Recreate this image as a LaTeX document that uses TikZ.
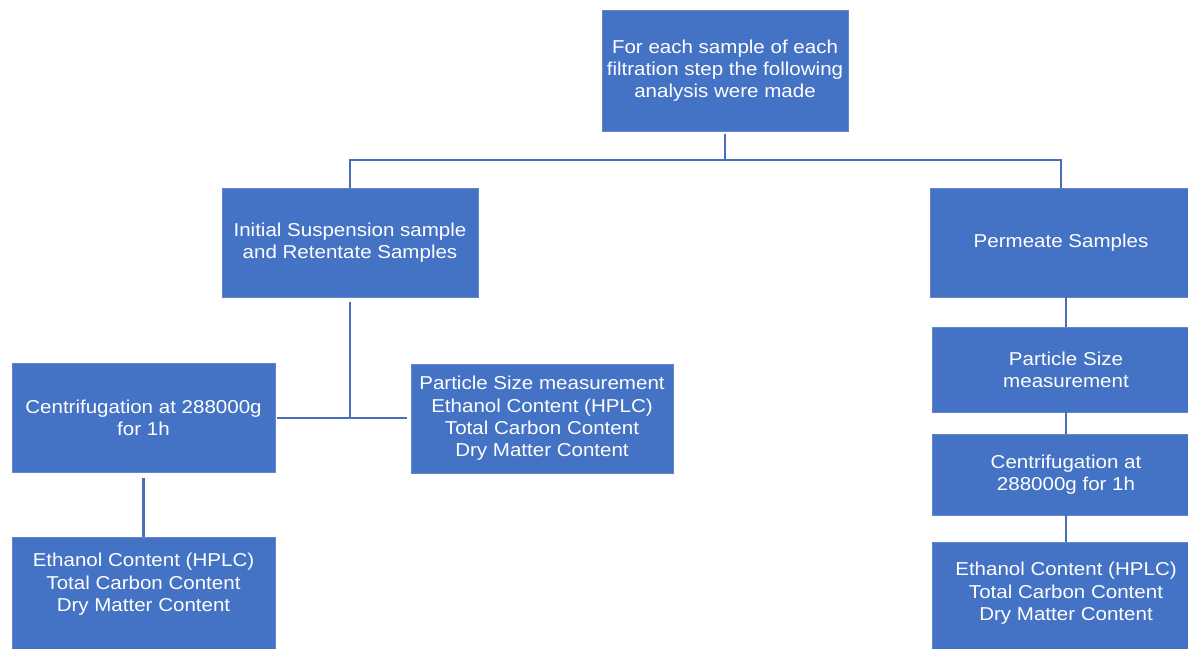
\documentclass[tikz,border=0pt]{standalone}
\usepackage{fontspec}
\setmainfont{Liberation Sans}[FakeStretch=1.1]
\definecolor{boxblue}{RGB}{68,114,196}
\definecolor{lineblue}{RGB}{72,110,184}

\tikzset{every picture/.style={line width=0.75pt}}
\tikzset{
  box/.style={fill=boxblue, draw=boxblue!85!white, line width=0.5pt, text=white, align=center,
    font=\fontsize{14}{16.7}\selectfont},
  link/.style={draw=lineblue, line width=1.6pt}
}

\begin{document}
\begin{tikzpicture}[x=0.75pt,y=0.75pt,yscale=-1,xscale=1]
	\useasboundingbox (0,0) rectangle (1188,649);

	%Top box
	\node (top) [box, minimum width=184.5pt, minimum height=90.75pt] at (725,70.5) {For each sample of each\\filtration step the following\\analysis were made};
	%Second row
	\node (init) [box, minimum width=192pt, minimum height=81.75pt] at (350,242.5) {Initial Suspension sample\\and Retentate Samples};
	\node (perm) [box, minimum width=196.5pt, minimum height=81.75pt] at (1061,242.5) {Permeate Samples};
	%Left branch
	\node (centL) [box, minimum width=197.25pt, minimum height=81.75pt] at (143.5,417.5) {Centrifugation at 288000g\\for 1h};
	\node (measL) [box, minimum width=196.5pt, minimum height=81.75pt] at (542,418.5) {Particle Size measurement\\Ethanol Content (HPLC)\\Total Carbon Content\\Dry Matter Content};
	\node (ecL) [box, anchor=north, minimum width=197.25pt, inner ysep=12pt, text depth=60pt] at (143.5,537) {Ethanol Content (HPLC)\\Total Carbon Content\\Dry Matter Content};
	%Right branch
	\node (psR) [box, minimum width=201pt, minimum height=63.75pt] at (1066,369.5) {Particle Size\\measurement};
	\node (cR) [box, minimum width=201pt, minimum height=60.75pt] at (1066,474.5) {Centrifugation at\\288000g for 1h};
	\node (ecR) [box, anchor=north, minimum width=201pt, inner ysep=15pt, text depth=60pt] at (1066,542) {Ethanol Content (HPLC)\\Total Carbon Content\\Dry Matter Content};

	%Connectors
	\coordinate (split) at (725,160);
	\coordinate (junc) at (350,418);
	\draw [link, shorten <=2pt] (top.south) -- (split);
	\draw [link] (init.north) |- (split) -| (perm.north);
	\draw [link, shorten <=3.75pt] (init.south) -- (junc);
	\draw [link, shorten <=1.5pt, shorten >=3pt] (centL.east |- junc) -- (measL.west |- junc);
	\draw [link, shorten <=4pt] (centL.south) -- (ecL.north);
	\draw [link] (psR.north) -- (psR.north |- perm.south);
	\draw [link] (psR.south) -- (cR.north);
	\draw [link] (cR.south) -- (ecR.north);

\end{tikzpicture}
\end{document}
